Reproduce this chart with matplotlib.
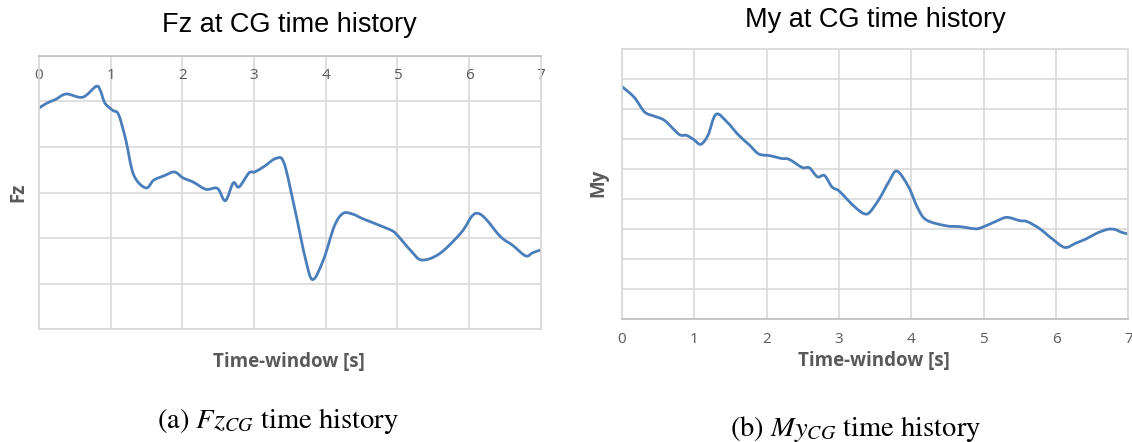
import matplotlib
matplotlib.use("Agg")
import matplotlib.pyplot as plt
from matplotlib.path import Path
from matplotlib.patches import PathPatch
import numpy as np

plt.rcParams['mathtext.fontset'] = 'stix'

# ---- data (grid units, top of plot = 0) ----
fz_t = [0.00, 0.11, 0.23, 0.38, 0.61, 0.80, 0.86, 0.92, 1.03, 1.11, 1.21, 1.32,
        1.49, 1.60, 1.75, 1.89, 2.01, 2.15, 2.33, 2.49, 2.60, 2.71, 2.79, 2.93,
        3.01, 3.15, 3.31, 3.42, 3.57, 3.72, 3.82, 3.97, 4.12, 4.24, 4.37, 4.54,
        4.89, 4.99, 5.19, 5.34, 5.59, 5.89, 6.04, 6.13, 6.24, 6.44, 6.61, 6.79,
        6.89, 7.00]
fz_v = [-1.15, -1.04, -0.96, -0.84, -0.91, -0.67, -0.78, -1.04, -1.20, -1.29, -1.84, -2.61,
        -2.90, -2.73, -2.63, -2.55, -2.68, -2.77, -2.93, -2.91, -3.18, -2.79, -2.88, -2.57,
        -2.55, -2.42, -2.25, -2.36, -3.37, -4.47, -4.91, -4.47, -3.74, -3.46, -3.47, -3.59,
        -3.81, -3.92, -4.28, -4.48, -4.34, -3.88, -3.52, -3.46, -3.59, -3.97, -4.16, -4.39,
        -4.32, -4.26]

my_t = [0.00, 0.17, 0.31, 0.44, 0.59, 0.79, 0.89, 0.99, 1.09, 1.19, 1.30, 1.46,
        1.61, 1.76, 1.89, 2.05, 2.20, 2.31, 2.49, 2.59, 2.70, 2.80, 2.90, 3.00,
        3.12, 3.24, 3.34, 3.42, 3.56, 3.69, 3.80, 3.96, 4.09, 4.21, 4.48, 4.68,
        4.88, 4.98, 5.18, 5.32, 5.50, 5.60, 5.77, 5.94, 6.12, 6.27, 6.42, 6.56,
        6.71, 6.81, 6.91, 7.00]
my_v = [-1.26, -1.62, -2.10, -2.24, -2.39, -2.85, -2.88, -3.02, -3.18, -2.87, -2.18, -2.46,
        -2.87, -3.20, -3.50, -3.56, -3.65, -3.68, -3.95, -3.96, -4.26, -4.22, -4.59, -4.73,
        -5.03, -5.31, -5.48, -5.45, -4.98, -4.42, -4.07, -4.59, -5.31, -5.70, -5.89, -5.92,
        -5.99, -5.94, -5.73, -5.61, -5.72, -5.75, -5.98, -6.31, -6.61, -6.47, -6.32, -6.14,
        -6.01, -6.01, -6.11, -6.16]

x_ticks = [0, 1, 2, 3, 4, 5, 6, 7]
x_ticklabels = ['0', '1', '2', '3', '4', '5', '6', '7']
titles = ['Fz at CG time history', 'My at CG time history']
ylabels = ['Fz', 'My']
xlabel = 'Time-window [s]'
captions = [r'(a) $Fz_{CG}$ time history', r'(b) $My_{CG}$ time history']

LINE = '#4a7ebb'
GRID = '#d9d9d9'
AXC = '#bfbfbf'
TXT = '#595959'
tickfont = ['Liberation Sans Narrow', 'Open Sans', 'DejaVu Sans']
boldfont = ['Open Sans', 'DejaVu Sans']
titlefont = ['Liberation Sans', 'DejaVu Sans']

W, H = 1132, 442
fig = plt.figure(figsize=(W / 100, H / 100), dpi=100)


def px_axes(l, t, r, b):
    return fig.add_axes([l / W, 1 - b / H, (r - l) / W, (b - t) / H])


def smooth_line(ax, xs, ys, **kw):
    """Excel-style smoothed line: Bezier segments through the data points."""
    p = np.column_stack([xs, ys]).astype(float)
    n = len(p)
    verts = [p[0]]
    codes = [Path.MOVETO]
    for i in range(n - 1):
        p0 = p[i - 1] if i > 0 else p[i]
        p1, p2 = p[i], p[i + 1]
        p3 = p[i + 2] if i + 2 < n else p[i + 1]
        c1 = p1 + (p2 - p0) / 6.0
        c2 = p2 - (p3 - p1) / 6.0
        verts += [c1, c2, p2]
        codes += [Path.CURVE4] * 3
    patch = PathPatch(Path(verts, codes), facecolor='none', edgecolor=kw.get('color'),
                      linewidth=kw.get('linewidth', 2), capstyle='round', joinstyle='round')
    ax.add_patch(patch)


def style(ax, nrows):
    ax.set_xlim(0, 7)
    ax.set_ylim(-nrows, 0)
    ax.set_xticks(x_ticks)
    ax.set_xticklabels(x_ticklabels, fontfamily=tickfont, fontsize=11, color=TXT)
    ax.set_yticks(np.arange(-nrows, 1, 1))
    ax.set_yticklabels([])
    ax.tick_params(axis='y', length=0)
    ax.grid(True, color=GRID, linewidth=1.2)
    ax.set_axisbelow(True)
    for s in ax.spines.values():
        s.set_color(GRID)
        s.set_linewidth(1.2)


# left chart
ax1 = px_axes(39, 55.7, 540.7, 329.3)
style(ax1, 6)
smooth_line(ax1, fz_t, fz_v, color=LINE, linewidth=2.0)
ax1.spines['top'].set_color(AXC)
ax1.tick_params(axis='x', top=True, labeltop=True, bottom=False, labelbottom=False,
                length=0, pad=-20)
ax1.set_title(titles[0], fontfamily=titlefont, fontsize=19.5, y=1.112, pad=0, va='center')
ax1.set_xlabel(xlabel, fontfamily=boldfont, fontweight='bold', fontsize=13.5, color=TXT, va='center')
ax1.xaxis.set_label_coords(0.498, -0.118)
ax1.set_ylabel(ylabels[0], fontfamily=boldfont, fontweight='bold', fontsize=13.5, color=TXT, va='center')
ax1.yaxis.set_label_coords(-0.042, 0.502)

# right chart
ax2 = px_axes(622, 48.7, 1128.4, 319.3)
style(ax2, 9)
smooth_line(ax2, my_t, my_v, color=LINE, linewidth=2.0)
ax2.spines['bottom'].set_color(AXC)
ax2.tick_params(axis='x', length=0, pad=9)
ax2.set_title(titles[1], fontfamily=titlefont, fontsize=19.5, y=1.106, pad=0, va='center')
ax2.set_xlabel(xlabel, fontfamily=boldfont, fontweight='bold', fontsize=13.5, color=TXT, va='center')
ax2.xaxis.set_label_coords(0.497, -0.153)
ax2.set_ylabel(ylabels[1], fontfamily=boldfont, fontweight='bold', fontsize=13.5, color=TXT, va='center')
ax2.yaxis.set_label_coords(-0.047, 0.504)

fig.text(278 / W, 1 - 420.5 / H, captions[0], family='STIXGeneral', fontsize=20.5,
         ha='center', va='center')
fig.text(855.6 / W, 1 - 428.5 / H, captions[1], family='STIXGeneral', fontsize=20.5,
         ha='center', va='center')

fig.savefig('out.png', dpi=100)
